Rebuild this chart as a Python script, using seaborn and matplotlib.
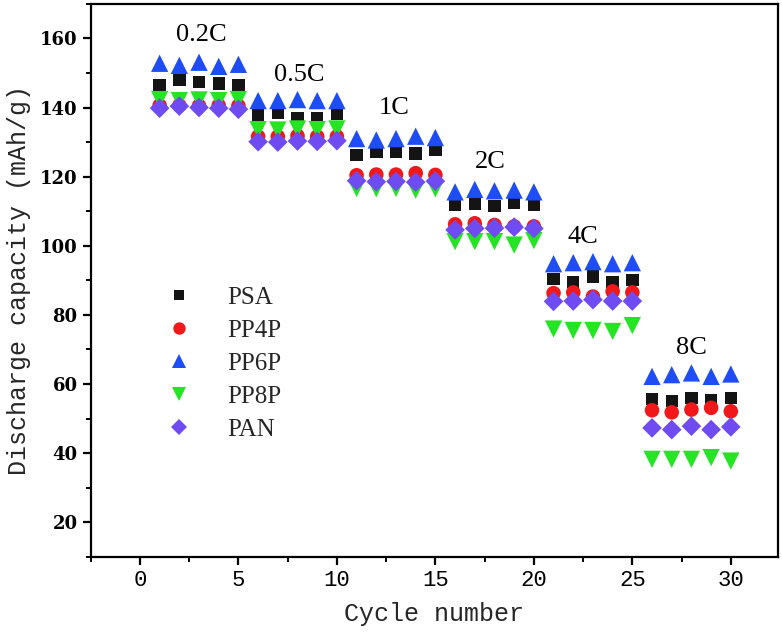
import pandas as pd
import numpy as np
import matplotlib
matplotlib.use("Agg")
import matplotlib.pyplot as plt
from matplotlib.ticker import MultipleLocator
import seaborn as sns

# -----------------------------------------
#  Data
# -----------------------------------------

CYCLES = list(range(1, 31))

PSA = [146.4, 148.1, 147.4, 146.9, 146.4,
       137.8, 138.4, 136.8, 136.8, 138.1,
       126.2, 127.2, 127.2, 126.7, 127.7,
       111.8, 112.0, 111.5, 112.3, 111.8,
       90.3, 89.5, 91.1, 89.5, 90.1,
       55.7, 55.0, 56.0, 55.3, 56.0]

PP4P = [140.6, 140.6, 140.5, 140.6, 140.5,
        131.6, 131.6, 131.8, 131.6, 131.6,
        120.4, 120.6, 120.6, 121.0, 120.5,
        106.2, 106.5, 106.0, 105.6, 105.6,
        86.3, 86.5, 85.3, 86.8, 86.5,
        52.4, 51.8, 52.6, 53.1, 52.1]

PP6P = [152.8, 152.2, 153.1, 151.9, 152.5,
        142.0, 142.0, 142.3, 142.0, 142.0,
        131.0, 130.6, 131.0, 131.7, 131.3,
        115.6, 116.3, 115.9, 116.1, 115.6,
        94.8, 95.1, 95.4, 94.8, 95.1,
        62.2, 62.7, 63.2, 62.2, 62.9]

PP8P = [142.3, 142.0, 142.2, 142.0, 142.3,
        133.6, 133.5, 133.8, 133.6, 133.8,
        116.6, 116.5, 116.6, 116.1, 116.5,
        101.2, 101.2, 101.2, 100.2, 101.5,
        75.9, 75.5, 75.5, 75.2, 76.9,
        38.2, 38.2, 38.2, 38.7, 37.7]

PAN = [139.8, 140.4, 140.0, 139.8, 139.5,
       130.1, 130.0, 130.3, 130.2, 130.4,
       118.8, 118.5, 118.6, 118.4, 118.7,
       104.6, 105.0, 105.1, 105.4, 105.0,
       83.9, 84.0, 84.4, 84.0, 84.0,
       47.3, 46.8, 47.8, 46.8, 47.6]

SAMPLES = ["PSA", "PP4P", "PP6P", "PP8P", "PAN"]
VALUES = [PSA, PP4P, PP6P, PP8P, PAN]

RATES = ["0.2C", "0.5C", "1C", "2C", "4C", "8C"]
RATE_POS = [(3.1, 160.9), (8.1, 149.3), (12.9, 139.8),
            (17.8, 124.2), (22.5, 102.6), (28.0, 70.5)]

# -----------------------------------------
#  Style
# -----------------------------------------

COLORS = {
    "PSA":  "#141414",
    "PP4P": "#f01818",
    "PP6P": "#1e4cf5",
    "PP8P": "#24e424",
    "PAN":  "#6e4cf2",
}
MARKERS = {"PSA": "s", "PP4P": "o", "PP6P": "^", "PP8P": "v", "PAN": "D"}
SIZES = {"PSA": 80, "PP4P": 110, "PP6P": 155, "PP8P": 155, "PAN": 100}

sns.set_theme(style="ticks")
plt.rcParams["font.family"] = ["Liberation Serif", "DejaVu Serif"]

# -----------------------------------------
#  Build long table & plot
# -----------------------------------------

rows = []
for name, vals in zip(SAMPLES, VALUES):
    for c, v in zip(CYCLES, vals):
        rows.append({"cycle": c, "capacity": v, "sample": name})
df = pd.DataFrame(rows)

fig = plt.figure(figsize=(7.82, 6.4), dpi=100)
ax = fig.add_axes([0.116, 0.130, 0.879, 0.864])

sns.scatterplot(data=df, x="cycle", y="capacity",
                hue="sample", style="sample", size="sample",
                hue_order=SAMPLES, style_order=SAMPLES, size_order=SAMPLES,
                palette=COLORS, markers=MARKERS, sizes=SIZES,
                edgecolor="none", linewidth=0, ax=ax, zorder=3)

for label, (x, y) in zip(RATES, RATE_POS):
    ax.text(x, y, label, ha="center", va="center", fontsize=19,
            family=["Liberation Serif"], color="black")

ax.set_xlim(-2.5, 32.4)
ax.set_ylim(10, 170)
ax.xaxis.set_major_locator(MultipleLocator(5))
ax.xaxis.set_minor_locator(MultipleLocator(2.5))
ax.yaxis.set_major_locator(MultipleLocator(20))
ax.yaxis.set_minor_locator(MultipleLocator(10))
ax.set_yticks(range(20, 161, 20))

for s in ax.spines.values():
    s.set_linewidth(1.6)
    s.set_color("black")
ax.tick_params(which="major", direction="out", length=6, width=1.6, colors="black")
ax.tick_params(which="minor", direction="out", length=3.5, width=1.4, colors="black")

for t in ax.get_yticklabels():
    t.set_fontfamily(["DejaVu Serif"])
    t.set_fontweight("bold")
    t.set_fontsize(13)
for t in ax.get_xticklabels():
    t.set_fontfamily(["Liberation Mono"])
    t.set_fontsize(16)

ax.set_xlabel("Cycle number", fontsize=18, family=["Liberation Mono"], labelpad=8)
ax.set_ylabel("Discharge capacity (mAh/g)", fontsize=18,
              family=["Liberation Mono"], labelpad=6)

handles, labels = ax.get_legend_handles_labels()
leg = ax.legend(handles, labels, loc="upper left", bbox_to_anchor=(0.06, 0.53),
                frameon=False, fontsize=18, labelspacing=0.42, handletextpad=0.9,
                markerscale=1.0)
for h in leg.legend_handles:
    h.set_markersize(h.get_markersize() * 0.85)

fig.savefig("out.png", dpi=100, facecolor="white")
